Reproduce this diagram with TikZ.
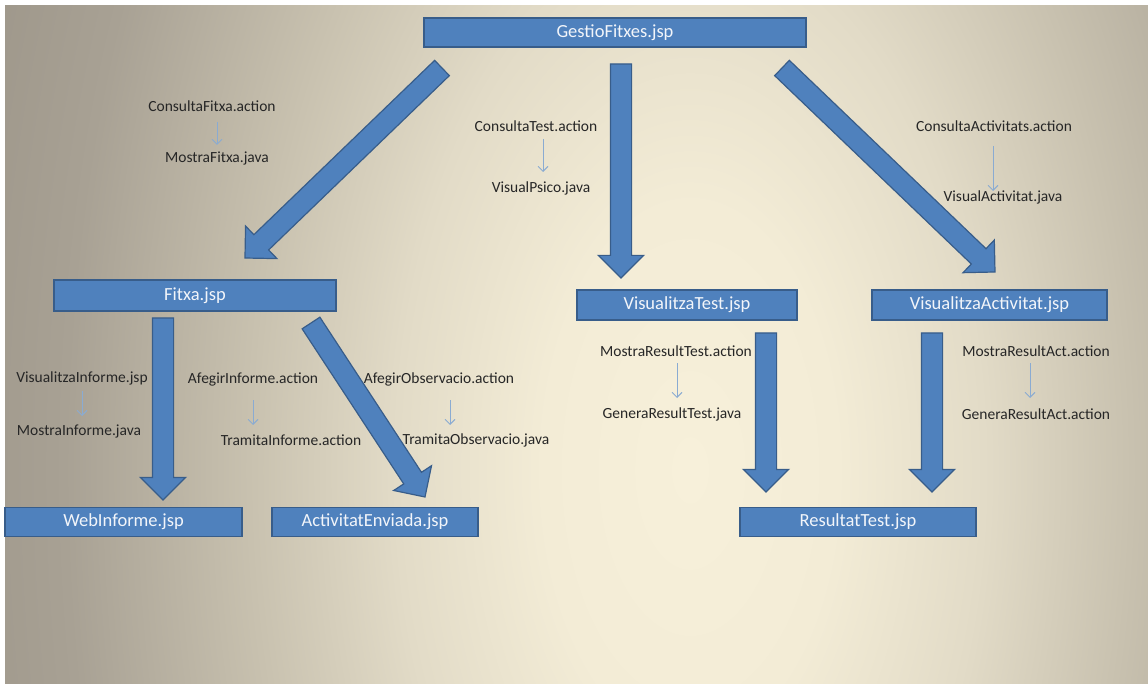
\documentclass[tikz,border=0pt]{standalone}
\usepackage{fontspec}
\setmainfont{Carlito}
\usetikzlibrary{shapes.arrows,calc,arrows.meta}
\definecolor{boxfill}{HTML}{4F81BD}
\definecolor{boxline}{HTML}{385D8A}
\definecolor{boxtext}{HTML}{F2F5FA}
\definecolor{lbl}{HTML}{262626}
\definecolor{thinarr}{HTML}{8AABD2}
\definecolor{bga}{HTML}{F7F0DA}
\definecolor{bgb}{HTML}{F3ECD6}
\definecolor{bgc}{HTML}{E2DBC7}
\definecolor{bgd}{HTML}{C8C1AF}
\definecolor{bge}{HTML}{A8A194}
\definecolor{bgf}{HTML}{918A7E}
\pgfdeclareradialshading{bgshade}{\pgfpoint{0bp}{0bp}}{color(0bp)=(bga); color(4bp)=(bgb); color(8bp)=(bgc); color(12bp)=(bgd); color(17bp)=(bge); color(25bp)=(bgf); color(50bp)=(bgf)}
\tikzset{
  jsp/.style={draw=boxline, fill=boxfill, line width=1.5pt, text=boxtext,
    font=\fontsize{18.5}{22}\selectfont, inner sep=0pt, outer sep=0pt},
  bigarrow/.style={single arrow, draw=boxline, fill=boxfill, line width=1.2pt,
    minimum width=44pt, single arrow head extend=12pt, single arrow head indent=0pt,
    inner sep=0pt, outer sep=0pt},
  lab/.style={text=lbl, font=\fontsize{15.5}{18}\selectfont, inner sep=0pt},
  thin/.style={draw=thinarr, line width=0.9pt, -{Straight Barb[length=5pt,width=10pt]}}
}
\newcommand\blockarrow[3]{%
  \path let \p1=(#2), \p2=(#3), \n1={atan2(\y2-\y1,\x2-\x1)}, \n2={veclen(\x2-\x1,\y2-\y1)} in
    node[bigarrow, rotate=\n1, minimum height=\n2, anchor=tail] (#1) at (\p1) {\rule{0pt}{20pt}};}
\begin{document}
\begin{tikzpicture}[x=1pt,y=-1pt]
\path[use as bounding box] (0,0) rectangle (1148,684);
\fill[white] (0,0) rectangle (1148,684);
\begin{scope}
  \clip (5,6) rectangle (1148,684);
  \fill[bgf] (5,6) rectangle (1148,684);
  \begin{scope}[transform canvas={shift={(690,470)}, yscale=1.8}]
    \shade[shading=bgshade] (-919,-919) rectangle (919,919);
  \end{scope}
\end{scope}
% boxes
\node[jsp, minimum width=382pt, minimum height=29pt] (gestio) at (615,32.5) {GestioFitxes.jsp};
\node[jsp, minimum width=282pt, minimum height=31pt] (fitxa) at (195,295.5) {Fitxa.jsp};
\node[jsp, minimum width=220pt, minimum height=30pt] (vtest) at (687,305) {VisualitzaTest.jsp};
\node[jsp, minimum width=235pt, minimum height=30pt] (vact) at (989.5,305) {VisualitzaActivitat.jsp};
\node[jsp, minimum width=237pt, minimum height=29pt] (webinf) at (123.5,522) {WebInforme.jsp};
\node[jsp, minimum width=206pt, minimum height=29pt] (actenv) at (375,522) {ActivitatEnviada.jsp};
\node[jsp, minimum width=236pt, minimum height=29pt] (restest) at (858,522) {ResultatTest.jsp};
% arrow end points
\coordinate (a1s) at (442,68);  \coordinate (a1e) at (245,258);
\coordinate (a2s) at (621,64);  \coordinate (a2e) at (621,278);
\coordinate (a3s) at (782,68);  \coordinate (a3e) at (995,272);
\coordinate (a4s) at (163,318); \coordinate (a4e) at (163,500);
\coordinate (a5s) at (311,323); \coordinate (a5e) at (425,497);
\coordinate (a6s) at (766,333); \coordinate (a6e) at (766,492);
\coordinate (a7s) at (932,333); \coordinate (a7e) at (932,492);
\blockarrow{arr1}{a1s}{a1e}
\blockarrow{arr2}{a2s}{a2e}
\blockarrow{arr3}{a3s}{a3e}
\blockarrow{arr4}{a4s}{a4e}
\blockarrow{arr5}{a5s}{a5e}
\blockarrow{arr6}{a6s}{a6e}
\blockarrow{arr7}{a7s}{a7e}
% labels
\node[lab] (cf1) at (212,106) {ConsultaFitxa.action};
\node[lab] (cf2) at (217,158) {MostraFitxa.java};
\node[lab] (ct1) at (536,126) {ConsultaTest.action};
\node[lab] (ct2) at (541,188) {VisualPsico.java};
\node[lab] (ca1) at (994,126) {ConsultaActivitats.action};
\node[lab] (ca2) at (1003,197) {VisualActivitat.java};
\node[lab] (vi1) at (82,378) {VisualitzaInforme.jsp};
\node[lab] (vi2) at (79,431) {MostraInforme.java};
\node[lab] (ai1) at (253,379) {AfegirInforme.action};
\node[lab] (ai2) at (291,440) {TramitaInforme.action};
\node[lab] (ao1) at (439,379) {AfegirObservacio.action};
\node[lab] (ao2) at (476,440) {TramitaObservacio.java};
\node[lab] (mt1) at (676,351) {MostraResultTest.action};
\node[lab] (mt2) at (672,414) {GeneraResultTest.java};
\node[lab] (ma1) at (1036,351) {MostraResultAct.action};
\node[lab] (ma2) at (1036,414) {GeneraResultAct.action};
% thin arrows
\draw[thin] (217,122) -- (217,145);
\draw[thin] (543,139) -- (543,172);
\draw[thin] (993,146) -- (993,191);
\draw[thin] (82,391) -- (82,416);
\draw[thin] (253,400) -- (253,425);
\draw[thin] (450,400) -- (450,425);
\draw[thin] (677,363) -- (677,398);
\draw[thin] (1030,363) -- (1030,398);
\end{tikzpicture}
\end{document}
